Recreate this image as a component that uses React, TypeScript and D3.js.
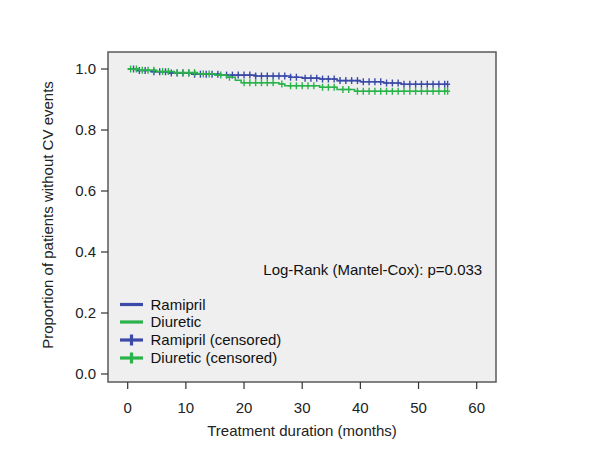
import React from "react";
import * as d3 from "d3";

// Kaplan–Meier step data (time in months, survival proportion)
const ramiprilTimes = [0, 1.5, 4, 7, 11, 16, 22, 28, 30, 33, 36, 40, 44, 47, 55];
const ramiprilSurv = [1.0, 0.995, 0.991, 0.987, 0.983, 0.980, 0.977, 0.973, 0.970, 0.967, 0.962, 0.958, 0.954, 0.950, 0.950];
const diureticTimes = [0, 2, 5, 8, 12, 15, 17, 18.5, 19.5, 26, 27, 33, 36, 39, 55];
const diureticSurv = [1.0, 0.996, 0.992, 0.988, 0.984, 0.980, 0.973, 0.963, 0.955, 0.951, 0.945, 0.940, 0.933, 0.927, 0.927];

// censored observation times
const ramiprilCensored = [1, 2, 3, 4.5, 5.5, 6.5, 7.5, 8.5, 9.5, 10.5, 11.5, 12.5, 13.5, 14.5, 15.5, 17, 18, 19, 20, 21, 22, 23, 24, 25, 26, 27, 28, 29, 30.5, 31.5, 32.5, 33.5, 34.5, 35.5, 36.5, 37.5, 38.5, 39.5, 40.5, 41.5, 42.5, 43.5, 44.5, 45.5, 46.5, 47.5, 48.5, 49.5, 50.5, 51.5, 52.5, 53.5, 54.5, 55];
const diureticCensored = [0.5, 1.5, 2.5, 3.5, 4.5, 6, 7, 8.5, 9.5, 10.5, 11.5, 13, 14, 16, 17.5, 20, 21, 22, 23, 24, 25, 26.5, 28, 29, 30, 31, 32, 33.5, 34.5, 35.5, 37, 38, 39.5, 40.5, 41.5, 42.5, 43.5, 44.5, 45.5, 46.5, 47.5, 48.5, 49.5, 50.5, 51.5, 52.5, 53.5, 54.5, 55];

const xTicks = [0, 10, 20, 30, 40, 50, 60];
const yTicks = [0.0, 0.2, 0.4, 0.6, 0.8, 1.0];
const legendItems = ["Ramipril", "Diuretic", "Ramipril (censored)", "Diuretic (censored)"];

const BLUE = "#3b4aa8";
const GREEN = "#2bb34b";
const FONT = "'Liberation Sans', Arial, sans-serif";
const FS = 15;

export default function App() {
  const W = 600, H = 450;
  const box = { l: 108, r: 496, t: 52, b: 382 };
  const x = d3.scaleLinear().domain([0, 60]).range([127.7, 476.7]);
  const y = d3.scaleLinear().domain([0, 1]).range([374, 69]);

  const stepLine = d3
    .line<[number, number]>()
    .x((d) => x(d[0]))
    .y((d) => y(d[1]))
    .curve(d3.curveStepAfter);

  const survAt = (times: number[], surv: number[], t: number) => {
    let v = surv[0];
    for (let i = 0; i < times.length; i++) if (times[i] <= t) v = surv[i];
    return v;
  };

  const series = [
    { times: ramiprilTimes, surv: ramiprilSurv, cens: ramiprilCensored, color: BLUE },
    { times: diureticTimes, surv: diureticSurv, cens: diureticCensored, color: GREEN },
  ];

  const plus = (cx: number, cy: number, color: string, hw: number, hh: number, sw: number, key: string) => (
    <g key={key} stroke={color} strokeWidth={sw}>
      <line x1={cx - hw} x2={cx + hw} y1={cy} y2={cy} />
      <line x1={cx} x2={cx} y1={cy - hh} y2={cy + hh} />
    </g>
  );

  const legendY = [304.5, 322, 340, 358];
  const legendColors = [BLUE, GREEN, BLUE, GREEN];

  return (
    <svg width={W} height={H} style={{ position: "absolute", left: 0, top: 0, background: "#fff" }} fontFamily={FONT}>
      <rect x={box.l} y={box.t} width={box.r - box.l} height={box.b - box.t} fill="#efefef" stroke="#5a5a5a" strokeWidth={1.5} />
      {/* y axis ticks */}
      {yTicks.map((t) => (
        <g key={"y" + t}>
          <line x1={101} x2={box.l} y1={y(t)} y2={y(t)} stroke="#333" strokeWidth={1.2} />
          <text x={96} y={y(t)} dy="0.35em" textAnchor="end" fontSize={FS} fill="#222">
            {d3.format(".1f")(t)}
          </text>
        </g>
      ))}
      {/* x axis ticks */}
      {xTicks.map((t) => (
        <g key={"x" + t}>
          <line x1={x(t)} x2={x(t)} y1={box.b} y2={389} stroke="#333" strokeWidth={1.2} />
          <text x={x(t)} y={407.5} dy="0.35em" textAnchor="middle" fontSize={FS} fill="#222">
            {t}
          </text>
        </g>
      ))}
      <text x={302} y={430.5} dy="0.35em" textAnchor="middle" fontSize={FS} fill="#222">
        Treatment duration (months)
      </text>
      <text transform={`translate(48,215) rotate(-90)`} dy="0.35em" textAnchor="middle" fontSize={FS} fill="#222">
        Proportion of patients without CV events
      </text>
      {/* curves */}
      {series.map((s, i) => {
        const pts: [number, number][] = s.times.map((t, j) => [t, s.surv[j]]);
        return (
          <g key={"s" + i}>
            <path d={stepLine(pts) || ""} fill="none" stroke={s.color} strokeWidth={1.6} />
            {s.cens.map((c, k) =>
              plus(x(c), y(survAt(s.times, s.surv, c)), s.color, 2.5, 3.5, 1.4, "c" + i + "-" + k)
            )}
          </g>
        );
      })}
      <text x={263.3} y={270} dy="0.35em" fontSize={FS} fill="#111">
        Log-Rank (Mantel-Cox): p=0.033
      </text>
      {/* legend */}
      {legendItems.map((lab, i) => (
        <g key={"l" + i}>
          <line x1={120} x2={143} y1={legendY[i]} y2={legendY[i]} stroke={legendColors[i]} strokeWidth={3.2} />
          {i >= 2 && (
            <line x1={131.5} x2={131.5} y1={legendY[i] - 5.5} y2={legendY[i] + 5.5} stroke={legendColors[i]} strokeWidth={3.2} />
          )}
          <text x={150.5} y={legendY[i]} dy="0.35em" fontSize={FS} fill="#111">
            {lab}
          </text>
        </g>
      ))}
    </svg>
  );
}
